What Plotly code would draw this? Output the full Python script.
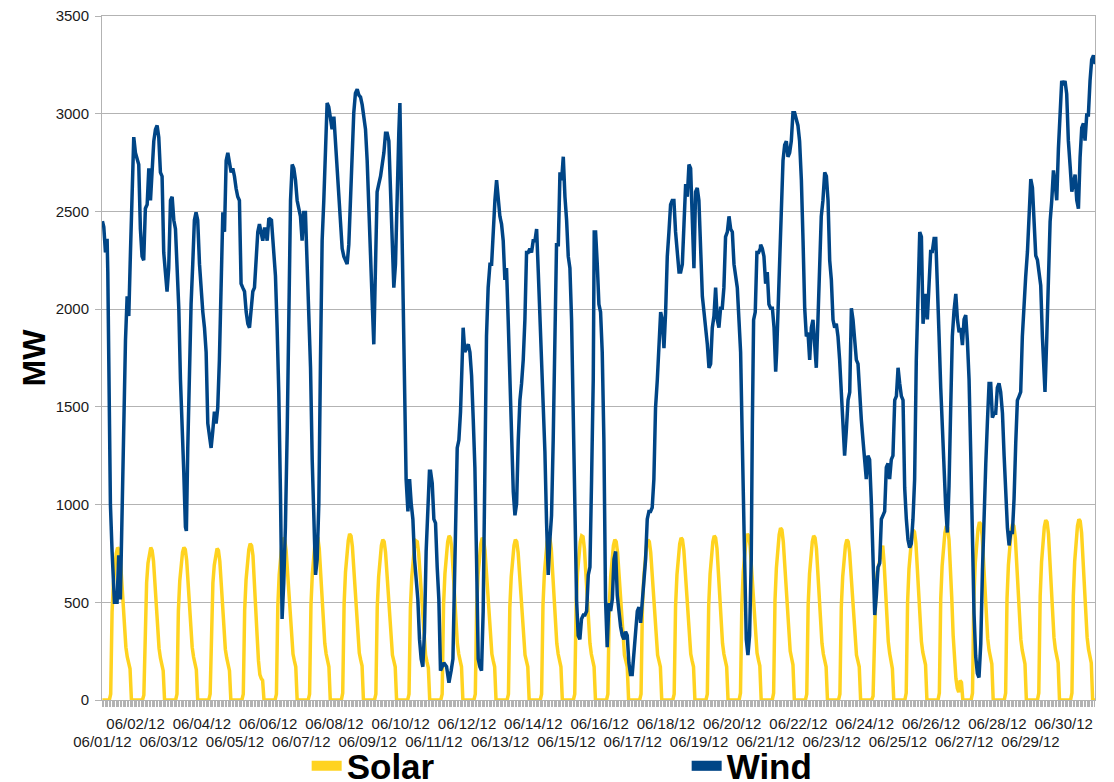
import plotly.graph_objects as go

# wind readings: (hours since 06/01/12 00:00, MW)
wind = [
    (0.0, 2450), (1.0, 2420), (2.2, 2290), (3.4, 2360), (3.9, 2190), (4.6, 1760), (5.8, 1000), (7.0, 760),
    (8.7, 500), (10.6, 500), (11.8, 740), (13.0, 515), (14.2, 965), (15.5, 1495), (16.7, 1840), (17.9, 2065),
    (19.1, 1965), (20.3, 2290), (21.5, 2640), (22.7, 2880), (23.9, 2800), (25.1, 2760), (26.3, 2740), (27.5, 2410),
    (28.7, 2270), (29.9, 2250), (31.1, 2515), (32.4, 2535), (33.6, 2720), (34.8, 2556), (36.0, 2740), (37.2, 2860),
    (38.4, 2920), (39.6, 2940), (40.8, 2880), (42.0, 2700), (43.2, 2680), (44.4, 2290), (45.6, 2190), (46.8, 2090),
    (48.0, 2210), (49.3, 2556), (50.5, 2575), (51.7, 2455), (52.9, 2410), (54.1, 2190), (55.3, 2005), (56.5, 1640),
    (57.7, 1330), (58.9, 1170), (60.1, 885), (60.8, 865), (61.8, 1290), (63.0, 1740), (64.2, 2025), (65.4, 2230),
    (66.6, 2455), (67.8, 2495), (69.0, 2455), (70.3, 2230), (71.5, 2090), (72.7, 1985), (73.9, 1905), (75.1, 1780),
    (76.3, 1415), (77.5, 1330), (78.7, 1290), (79.9, 1375), (81.1, 1475), (82.3, 1415), (83.5, 1495), (84.7, 1740),
    (86.0, 2090), (87.2, 2495), (88.4, 2395), (89.6, 2760), (90.8, 2800), (92.0, 2740), (93.2, 2700), (94.4, 2720),
    (95.6, 2680), (96.8, 2617), (98.0, 2575), (99.2, 2556), (100.4, 2130), (101.6, 2110), (102.9, 2090), (104.1, 1985),
    (105.3, 1925), (106.5, 1905), (107.7, 2005), (108.9, 2090), (110.1, 2110), (111.3, 2230), (112.5, 2395), (113.7, 2435),
    (114.9, 2395), (116.1, 2350), (117.3, 2410),
    (118.1, 2410), (119.3, 2350), (120.5, 2465), (122.4, 2455), (124.1, 2290), (125.3, 2170), (126.5, 1905), (127.7, 1575),
    (128.9, 1065), (130.1, 415), (131.3, 600), (132.5, 885), (133.8, 1375), (135.0, 2065), (136.2, 2556), (137.4, 2740),
    (138.6, 2720), (139.8, 2660), (141.0, 2556), (142.2, 2515), (143.4, 2475), (144.6, 2350), (145.8, 2495), (147.0, 2495),
    (148.2, 2230), (149.4, 2005), (150.7, 1700), (151.9, 1230), (153.1, 925), (154.3, 640), (155.5, 720), (156.7, 1005),
    (157.9, 1740), (159.1, 2350), (160.3, 2556), (161.5, 2760), (162.7, 3055), (163.9, 3035), (165.1, 2985), (166.3, 2920),
    (167.6, 2985), (168.8, 2860), (170.0, 2720), (171.2, 2600), (172.4, 2495), (173.6, 2310), (174.8, 2270), (176.0, 2250),
    (177.2, 2230), (178.4, 2330), (179.6, 2556), (180.8, 2760), (182.0, 3005), (183.2, 3105), (184.5, 3125), (185.7, 3095),
    (186.9, 3085), (188.1, 3045), (189.3, 2965), (190.5, 2920), (191.7, 2760), (192.9, 2556), (194.1, 2310), (195.3, 2045),
    (196.5, 1820), (197.7, 2310), (198.9, 2600), (200.1, 2640), (201.4, 2680), (202.6, 2740), (203.8, 2800), (205.0, 2900),
    (206.2, 2900), (207.4, 2860), (208.6, 2600), (209.8, 2250), (211.0, 2110), (212.2, 2230), (213.4, 2680), (214.6, 2900),
    (215.4, 3055), (216.6, 2556), (217.5, 2045), (218.7, 1535), (219.9, 1130), (221.2, 965), (222.4, 1130), (223.6, 1005),
    (224.8, 925), (226.0, 720), (227.2, 620), (228.4, 515), (229.6, 310), (230.8, 210), (232.0, 170), (233.2, 350),
    (234.4, 760), (235.6, 1025), (236.8, 1170),
    (237.6, 1170), (238.8, 1110), (240.0, 925), (241.2, 905), (242.4, 680), (243.6, 515), (244.8, 150), (247.2, 190),
    (249.2, 170), (250.9, 88), (252.5, 150), (253.8, 210), (254.5, 455), (255.7, 925), (256.9, 1290), (258.1, 1330),
    (259.3, 1475), (260.5, 1740), (261.2, 1905), (262.4, 1780), (263.7, 1800), (264.9, 1820), (266.1, 1780), (267.3, 1660),
    (268.5, 1435), (269.7, 1190), (270.9, 720), (272.1, 210), (273.3, 170), (274.5, 150), (275.7, 455), (276.9, 1170),
    (278.1, 1860), (279.3, 2110), (280.6, 2230), (281.8, 2230), (283.0, 2410), (284.2, 2556), (285.4, 2660), (286.6, 2556),
    (287.8, 2475), (289.0, 2435), (290.2, 2350), (291.4, 2150), (292.6, 2210), (293.8, 1945), (295.0, 1640), (296.2, 1375),
    (297.5, 1065), (298.7, 945), (299.9, 1005), (301.1, 1330), (302.3, 1535), (303.5, 1620), (304.7, 1740), (305.9, 1945),
    (307.1, 2290), (308.3, 2290), (309.5, 2310), (310.7, 2290), (311.9, 2350), (313.2, 2350), (314.4, 2410), (315.6, 2190),
    (316.8, 1965), (318.0, 1660), (319.2, 1475), (320.4, 1270), (321.6, 905), (322.8, 640), (324.0, 820), (325.2, 945),
    (326.4, 1330), (327.6, 1740), (328.8, 2330), (330.1, 2330), (331.3, 2700), (332.5, 2660), (333.7, 2780), (334.9, 2575),
    (336.1, 2455), (337.3, 2270), (338.5, 2210), (339.7, 1945), (340.9, 1535), (342.1, 1005), (343.3, 515), (344.5, 330),
    (345.7, 310), (346.9, 415), (348.2, 435), (349.4, 435), (350.6, 455), (351.8, 640), (353.0, 680), (354.2, 1130),
    (355.4, 1640), (356.1, 2395),
    (357.1, 2395), (358.3, 2230), (359.5, 2025), (360.7, 1985), (361.9, 1780), (363.1, 1330), (364.3, 515), (365.5, 270),
    (366.7, 495), (368.0, 455), (369.2, 515), (370.4, 720), (371.6, 760), (372.8, 535), (374.0, 435), (375.2, 375),
    (376.4, 330), (377.6, 310), (378.8, 350), (380.0, 330), (381.2, 190), (382.4, 130), (383.6, 130), (384.9, 270),
    (386.1, 350), (387.3, 455), (388.5, 475), (389.7, 395), (390.9, 515), (392.1, 575), (393.3, 720), (394.5, 925),
    (395.7, 965), (396.9, 965), (398.1, 985), (399.3, 1130), (400.5, 1495), (401.8, 1640), (403.0, 1780), (404.2, 1985),
    (405.4, 1945), (406.6, 1800), (407.8, 1985), (409.0, 2270), (410.2, 2395), (411.4, 2535), (412.6, 2556), (413.8, 2556),
    (415.0, 2395), (416.2, 2270), (417.5, 2190), (418.7, 2190), (419.9, 2230), (421.1, 2435), (422.3, 2640), (423.5, 2575),
    (424.7, 2740), (425.9, 2720), (427.1, 2435), (428.3, 2210), (429.5, 2600), (430.7, 2620), (431.9, 2556), (433.1, 2350),
    (434.4, 2065), (435.6, 1985), (436.8, 1905), (438.0, 1820), (439.2, 1700), (440.4, 1720), (441.6, 1905), (442.8, 1965),
    (444.0, 2110), (445.2, 1945), (446.4, 1905), (447.6, 2005), (448.8, 2005), (450.0, 2110), (451.2, 2370), (452.5, 2395),
    (453.7, 2475), (454.9, 2410), (456.1, 2395), (457.3, 2230), (458.5, 2170), (459.7, 2110), (460.9, 1945), (462.1, 1780),
    (463.3, 1330), (464.0, 1005), (465.0, 720), (466.2, 310), (467.4, 230), (468.6, 330), (469.8, 720), (470.6, 1415),
    (471.5, 1945), (472.7, 1985), (473.9, 2290), (475.1, 2290), (476.4, 2310),
    (476.6, 2330), (477.8, 2310), (479.0, 2270), (480.2, 2130), (481.4, 2190), (482.6, 2025), (483.8, 2005), (485.1, 2005),
    (486.3, 1905), (487.5, 1680), (488.2, 1780), (489.2, 2025), (490.4, 2310), (491.6, 2515), (492.8, 2760), (494.0, 2840),
    (495.2, 2860), (496.4, 2780), (497.6, 2800), (498.8, 2860), (500.0, 3005), (501.2, 3005), (502.4, 2965), (503.6, 2940),
    (504.8, 2860), (506.1, 2660), (507.3, 2350), (508.5, 2005), (509.7, 1860), (510.9, 1880), (512.1, 1740), (513.3, 1905),
    (514.5, 1945), (515.7, 1780), (516.9, 1700), (518.1, 1945), (519.3, 2250), (520.5, 2475), (521.7, 2556), (523.0, 2700),
    (524.2, 2680), (525.4, 2556), (526.6, 2250), (527.8, 2150), (529.0, 1945), (530.2, 1905), (531.4, 1925), (532.6, 1860),
    (533.8, 1740), (535.0, 1575), (536.2, 1330), (537.4, 1250), (538.6, 1375), (539.9, 1535), (541.1, 1575), (542.3, 2005),
    (543.5, 1945), (544.7, 1840), (545.9, 1740), (547.1, 1720), (548.3, 1535), (549.5, 1435), (550.7, 1330), (551.9, 1210),
    (553.1, 1130), (554.3, 1250), (555.5, 1230), (556.8, 1005), (558.0, 620), (559.2, 435), (560.4, 535), (561.6, 680),
    (562.8, 700), (564.0, 925), (565.2, 945), (566.4, 965), (567.6, 1190), (568.8, 1210), (570.0, 1130), (571.2, 1230),
    (572.4, 1250), (573.7, 1535), (574.9, 1555), (576.1, 1700), (577.3, 1620), (578.5, 1555), (579.7, 1535), (580.9, 1085),
    (582.1, 925), (583.3, 820), (584.5, 780), (585.7, 800), (586.9, 925), (588.1, 1130), (589.3, 1740), (590.6, 2190),
    (591.8, 2395), (593.0, 2370), (594.2, 1925), (595.4, 2025),
    (596.1, 2078), (597.3, 1947), (598.5, 2165), (599.7, 2295), (600.9, 2295), (602.2, 2361), (603.4, 2361), (604.6, 2034),
    (605.8, 1860), (607.0, 1598), (608.2, 1380), (609.4, 1097), (610.6, 988), (611.8, 857), (613.0, 1097), (614.2, 1489),
    (615.4, 1860), (616.6, 1990), (617.9, 2078), (619.1, 1947), (620.3, 1881), (621.5, 1903), (622.7, 1816), (623.9, 1947),
    (625.1, 1969), (626.3, 1838), (627.5, 1642), (628.7, 1271), (629.9, 770), (631.1, 443), (632.3, 225), (633.5, 137),
    (634.7, 115), (636.0, 290), (637.2, 660), (638.4, 988), (639.6, 1206), (640.8, 1424), (642.0, 1620), (643.2, 1620),
    (644.4, 1445), (645.6, 1467), (646.8, 1467), (648.0, 1598), (649.2, 1620), (650.4, 1576), (651.7, 1467), (652.9, 1249),
    (654.1, 1031), (655.3, 879), (656.5, 791), (657.7, 857), (658.9, 857), (660.1, 1031), (661.3, 1314), (662.5, 1533),
    (663.7, 1554), (664.9, 1576), (666.1, 1860), (667.3, 2034), (668.5, 2165), (669.8, 2295), (671.0, 2470), (672.2, 2666),
    (673.4, 2622), (674.6, 2404), (675.8, 2274), (677.0, 2252), (678.2, 2186), (679.4, 2121), (680.6, 1860), (681.8, 1598),
    (682.5, 1576), (683.8, 1860), (685.0, 2121), (686.2, 2448), (687.4, 2557), (688.6, 2710), (689.8, 2644), (691.0, 2557),
    (692.2, 2819), (693.4, 2993), (694.6, 3168), (695.8, 3146), (697.0, 3168), (698.2, 3102), (699.4, 2862), (700.7, 2732),
    (701.9, 2601), (703.1, 2644), (704.3, 2688), (705.5, 2557), (706.7, 2514), (707.9, 2775), (709.1, 2928), (710.3, 2950),
    (711.5, 2862), (712.7, 2993), (713.9, 2993), (715.1, 3168), (716.3, 3277), (717.6, 3298), (718.8, 3255), (719.0, 3270),
]

# solar: one row per day, hourly MW from 05:00 on (hours after the row are 0)
solar_first_hour = 5
solar_days = [
    [0, 30, 450, 600, 690, 750, 780, 770, 720, 610, 480, 370, 270, 220, 190, 160, 0],
    [0, 25, 440, 600, 700, 755, 780, 765, 710, 600, 470, 360, 265, 215, 185, 150, 0],
    [0, 30, 455, 610, 700, 755, 780, 770, 715, 605, 475, 365, 270, 220, 185, 155, 0],
    [0, 30, 445, 600, 690, 745, 775, 765, 710, 600, 470, 360, 260, 215, 180, 150, 0],
    [0, 30, 460, 615, 710, 770, 800, 790, 740, 625, 480, 330, 200, 130, 110, 100, 0],
    [0, 30, 480, 640, 735, 800, 830, 820, 765, 650, 510, 395, 285, 235, 200, 170, 0],
    [0, 30, 485, 645, 745, 810, 840, 830, 775, 655, 515, 400, 290, 235, 205, 170, 0],
    [0, 35, 490, 655, 750, 815, 850, 840, 785, 665, 525, 405, 295, 240, 205, 175, 0],
    [0, 30, 475, 630, 725, 790, 820, 810, 755, 640, 505, 390, 285, 230, 200, 170, 0],
    [0, 30, 470, 630, 720, 790, 815, 810, 750, 640, 500, 390, 280, 230, 195, 165, 0],
    [0, 30, 485, 645, 745, 810, 840, 830, 775, 655, 515, 400, 290, 235, 205, 170, 0],
    [0, 30, 480, 640, 735, 800, 830, 820, 765, 650, 510, 395, 285, 235, 200, 170, 0],
    [0, 30, 475, 630, 725, 790, 820, 810, 755, 640, 505, 390, 285, 230, 200, 170, 0],
    [0, 30, 485, 645, 745, 810, 840, 830, 775, 655, 515, 400, 290, 235, 205, 170, 0],
    [0, 30, 485, 650, 745, 810, 840, 835, 775, 655, 515, 400, 290, 235, 205, 170, 0],
    [0, 30, 475, 630, 725, 790, 820, 810, 755, 640, 505, 390, 285, 230, 200, 170, 0],
    [0, 30, 475, 630, 725, 790, 820, 810, 755, 640, 505, 390, 285, 230, 200, 170, 0],
    [0, 30, 480, 640, 735, 800, 830, 820, 765, 650, 510, 395, 285, 235, 200, 170, 0],
    [0, 30, 485, 645, 745, 810, 840, 830, 775, 655, 515, 400, 290, 235, 205, 170, 0],
    [0, 35, 490, 655, 750, 815, 850, 840, 785, 665, 525, 405, 295, 240, 205, 175, 0],
    [0, 35, 510, 675, 780, 845, 880, 870, 810, 690, 540, 415, 305, 250, 215, 180, 0],
    [0, 30, 485, 645, 745, 810, 840, 830, 775, 655, 515, 400, 290, 235, 205, 170, 0],
    [0, 30, 475, 630, 725, 790, 820, 810, 755, 640, 505, 390, 285, 230, 200, 170, 0],
    [0, 20, 300, 560, 650, 700, 720, 760, 790, 700, 560, 420, 300, 240, 200, 160, 0],
    [0, 35, 500, 670, 770, 835, 870, 860, 805, 680, 535, 410, 300, 245, 210, 180, 0],
    [0, 35, 515, 685, 785, 855, 890, 880, 820, 700, 520, 330, 200, 110, 60, 40, 100, 90, 0],
    [0, 35, 525, 700, 805, 875, 910, 900, 840, 710, 560, 430, 315, 255, 220, 185, 0],
    [0, 35, 520, 690, 795, 865, 900, 890, 830, 705, 555, 425, 310, 255, 220, 185, 0],
    [0, 35, 530, 705, 815, 885, 920, 910, 850, 720, 565, 435, 320, 260, 225, 190, 0],
    [0, 35, 530, 710, 820, 890, 925, 915, 855, 720, 570, 435, 320, 260, 225, 190, 0],
]

upper_labels = ["06/02/12", "06/04/12", "06/06/12", "06/08/12", "06/10/12", "06/12/12", "06/14/12", "06/16/12",
                "06/18/12", "06/20/12", "06/22/12", "06/24/12", "06/26/12", "06/28/12", "06/30/12"]
lower_labels = ["06/01/12", "06/03/12", "06/05/12", "06/07/12", "06/09/12", "06/11/12", "06/13/12", "06/15/12",
                "06/17/12", "06/19/12", "06/21/12", "06/23/12", "06/25/12", "06/27/12", "06/29/12"]

SOLAR = "#ffd320"
WIND = "#004586"
GRID = "#b3b3b3"
FONT = "Liberation Sans"

wind_h = [p[0] for p in wind]
wind_v = [p[1] for p in wind]

solar_h, solar_v = [], []
for d, row in enumerate(solar_days):
    for h in range(24):
        i = h - solar_first_hour
        solar_h.append(24 * d + h)
        solar_v.append(row[i] if 0 <= i < len(row) else 0)

fig = go.Figure()
fig.add_trace(go.Scatter(x=solar_h, y=solar_v, mode="lines", line=dict(color=SOLAR, width=3.5),
                         showlegend=False, hoverinfo="x+y"))
fig.add_trace(go.Scatter(x=wind_h, y=wind_v, mode="lines", line=dict(color=WIND, width=3.5),
                         xaxis="x2", showlegend=False, hoverinfo="x+y"))
# legend keys
fig.add_trace(go.Scatter(x=[None], y=[None], mode="lines", line=dict(color=SOLAR, width=11), name="Solar"))
fig.add_trace(go.Scatter(x=[None], y=[None], mode="lines", line=dict(color=WIND, width=11), name="Wind"))

xr = [-0.3, 718.7]
tickfont = dict(family=FONT, size=15, color="#1a1a1a")

# page body has an 8px margin, so the figure is 8px smaller than the window
fig.update_layout(
    width=1106, height=774,
    margin=dict(l=94, r=19, t=8, b=82, autoexpand=False),
    paper_bgcolor="white", plot_bgcolor="white",
    font=dict(family=FONT, color="black"),
    xaxis=dict(
        range=xr, tickmode="array",
        tickvals=[24 * (2 * k + 1) for k in range(len(upper_labels))], ticktext=upper_labels,
        tickangle=0, tickfont=tickfont, ticks="outside", ticklen=6, tickcolor=GRID, ticklabelstandoff=4,
        showgrid=False, zeroline=False, showline=True, linecolor=GRID, mirror=True,
        minor=dict(tickmode="linear", tick0=0, dtick=1, ticks="outside", ticklen=6,
                   tickcolor=GRID, showgrid=False),
    ),
    xaxis2=dict(
        range=xr, matches="x", overlaying="x", anchor="y", side="bottom", tickmode="array",
        tickvals=[48 * k for k in range(len(lower_labels))], ticktext=lower_labels,
        tickangle=0, tickfont=tickfont, ticks="", ticklabelstandoff=31,
        showgrid=False, zeroline=False, showline=False,
    ),
    yaxis=dict(
        range=[0, 3500], dtick=500, tickfont=tickfont, ticks="outside", ticklen=6, tickcolor=GRID,
        ticklabelstandoff=3, ticklabeloverflow="allow",
        gridcolor=GRID, zeroline=False, showline=True, linecolor=GRID, mirror=True,
        title=dict(text="MW", font=dict(family=FONT, size=32, color="black", weight="bold"), standoff=0),
    ),
    legend=dict(
        orientation="h", x=0.2061, xanchor="left", y=-0.0966, yanchor="middle",
        font=dict(family=FONT, size=35, color="black", weight="bold"),
        entrywidth=335, entrywidthmode="pixels", itemwidth=30, bgcolor="rgba(0,0,0,0)",
    ),
)

fig.write_html("out.html")
